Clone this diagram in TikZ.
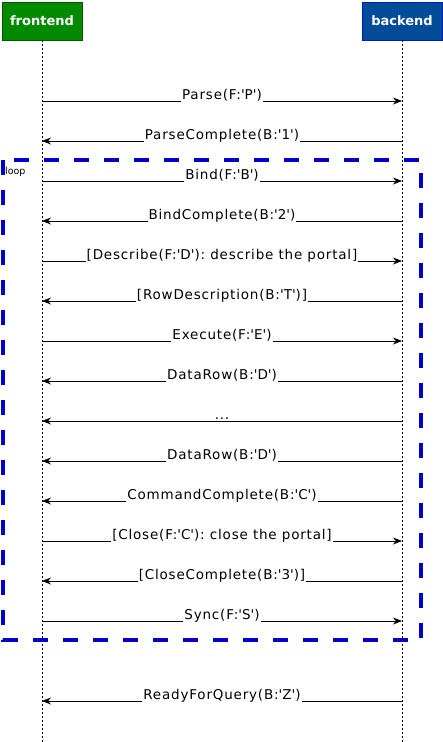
\documentclass[tikz,border=0pt]{standalone}
\usepackage{fontspec}
\setmainfont{DejaVu Sans}
\newfontfamily\lblfont[LetterSpace=6]{DejaVu Sans}
\usetikzlibrary{arrows.meta}
\definecolor{fegreen}{HTML}{008A00}
\definecolor{fegreenb}{HTML}{005700}
\definecolor{beblue}{HTML}{004C99}
\definecolor{bebluebd}{HTML}{001DBC}
\definecolor{loopblue}{HTML}{0000CC}
\newcommand{\q}{\textquotesingle}
\tikzset{
  x=1pt,y=-1pt,
  actor/.style={minimum width=80pt,minimum height=38pt,inner sep=0pt,text=white,font=\fontsize{13}{15}\selectfont\bfseries,line width=0.8pt},
  lifeline/.style={line width=0.6pt,dash pattern=on 2pt off 2pt},
  msg/.style={line width=0.8pt,-{Stealth[length=9pt,width=7pt]}},
  lbl/.style={fill=white,inner sep=1pt,font=\lblfont\fontsize{13.5}{15}\selectfont},
  loopbox/.style={draw=loopblue,line width=4pt,dash pattern=on 15pt off 15pt},
}
\begin{document}
\begin{tikzpicture}
\useasboundingbox (0,0) rectangle (443,742);
\node[actor,fill=fegreen,draw=fegreenb] (fe) at (42,21) {frontend};
\node[actor,fill=beblue,draw=bebluebd] (be) at (402,21) {backend};
\coordinate (feend) at (42,742);
\coordinate (beend) at (402,742);
\draw[lifeline] (fe.south) -- (feend);
\draw[lifeline] (be.south) -- (beend);
% messages
\foreach \y/\dir/\t [count=\i] in {
 101/r/{Parse(F:\q P\q)},
 141/l/{ParseComplete(B:\q 1\q)},
 181/r/{Bind(F:\q B\q)},
 221/l/{BindComplete(B:\q 2\q)},
 261/r/{[Describe(F:\q D\q): describe the portal]},
 301/l/{[RowDescription(B:\q T\q)]},
 341/r/{Execute(F:\q E\q)},
 381/l/{DataRow(B:\q D\q)},
 421/l/{...},
 461/l/{DataRow(B:\q D\q)},
 501/l/{CommandComplete(B:\q C\q)},
 541/r/{[Close(F:\q C\q): close the portal]},
 581/l/{[CloseComplete(B:\q 3\q)]},
 621/r/{Sync(F:\q S\q)},
 701/l/{ReadyForQuery(B:\q Z\q)}} {
  \coordinate (f\i) at (42,\y);
  \coordinate (b\i) at (402,\y);
  \if r\dir
    \draw[msg] (f\i) -- (b\i);
  \else
    \draw[msg] (b\i) -- (f\i);
  \fi
  \node[lbl,anchor=base] (t\i) at (222,\y-2) {\t};
}
\draw[loopbox] (3,160) rectangle (421,640);
\node[anchor=north west,inner sep=0pt,font=\fontsize{9.5}{11}\selectfont] (looplbl) at (5,167) {loop};
\end{tikzpicture}
\end{document}
